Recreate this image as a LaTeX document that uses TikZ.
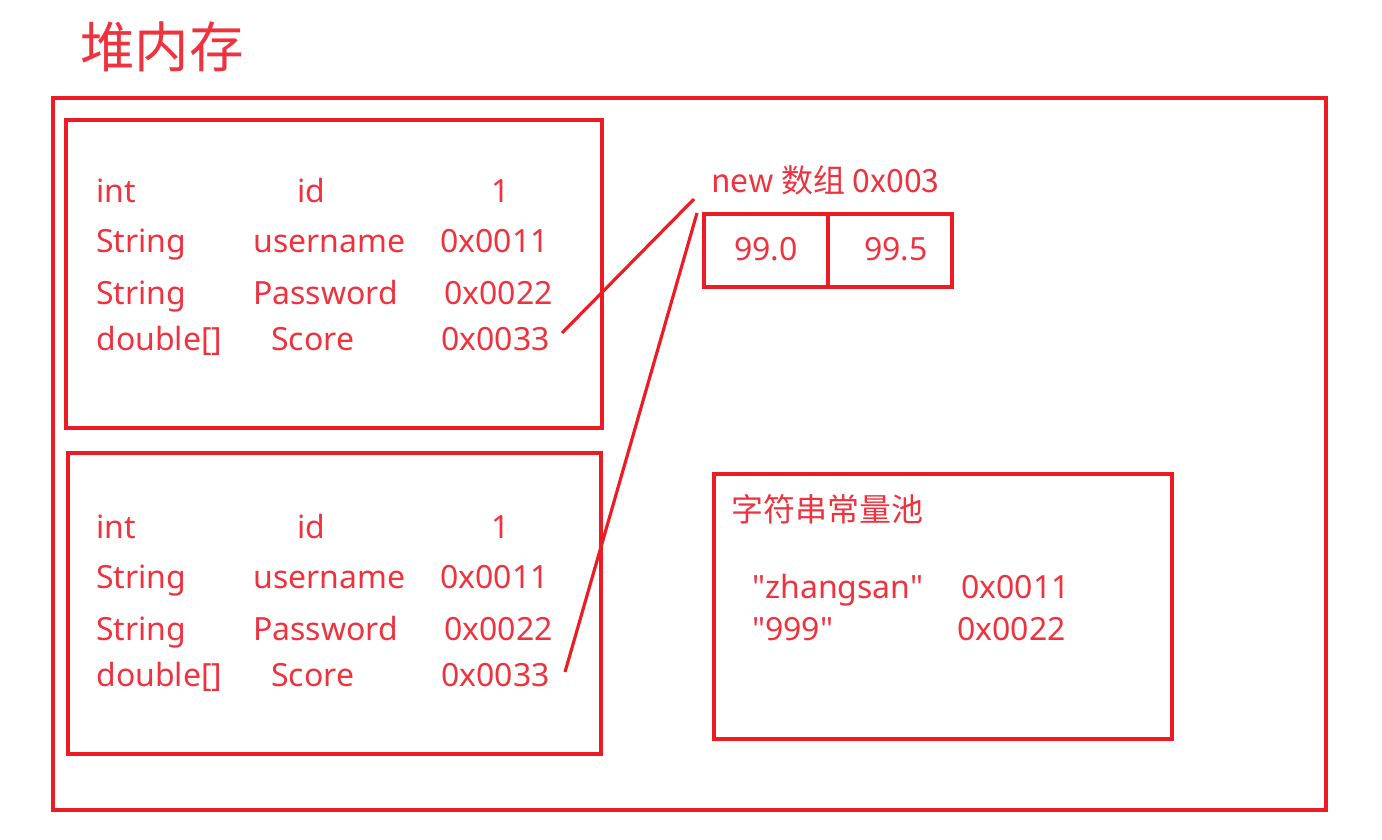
\documentclass[tikz,border=0pt]{standalone}
\usepackage{fontspec}
\setmainfont{Noto Sans}[Ligatures=TeXOff]
\newfontfamily\cjk{Noto Sans CJK SC}
\usetikzlibrary{positioning,calc}
\definecolor{memred}{RGB}{237,28,36}
\definecolor{txtred}{RGB}{238,50,62}
\tikzset{
  box/.style={draw=memred,line width=1.8pt},
  fld/.style={text=txtred,font=\fontsize{18.2}{20}\selectfont,anchor=base west,inner sep=0pt},
  ttl/.style={text=txtred,font=\cjk\fontsize{31}{33}\selectfont,anchor=base west,inner sep=0pt},
  lbl/.style={text=txtred,font=\cjk\fontsize{18.2}{20}\selectfont,anchor=base west,inner sep=0pt},
  ref/.style={draw=memred,line width=1.8pt},
}
\begin{document}
\begin{tikzpicture}[x=0.02cm,y=-0.02cm]
  \useasboundingbox (0,0) rectangle (1382,839);
  \node[ttl] (heap) at (80,67) {堆内存};
  \draw[box] (53,98) rectangle (1326,810);
  % two objects
  \draw[box] (66,120) rectangle (602,428);
  \draw[box] (68,453) rectangle (601,754);
  \foreach \o/\k in {0/1,336/2}{
    \node[fld] (ty\k a) at (96,202+\o) {int};
    \node[fld] (ty\k b) at (96,252+\o) {String};
    \node[fld] (ty\k c) at (96,304+\o) {String};
    \node[fld] (ty\k d) at (96,350+\o) {double[]};
    \node[fld] (nm\k a) at (297,202+\o) {id};
    \node[fld] (nm\k b) at (253,252+\o) {username};
    \node[fld] (nm\k c) at (253,304+\o) {Password};
    \node[fld] (nm\k d) at (271,350+\o) {Score};
    \node[fld] (vl\k a) at (491,202+\o) {1};
    \node[fld] (vl\k b) at (440,252+\o) {0x0011};
    \node[fld] (vl\k c) at (444,304+\o) {0x0022};
    \node[fld] (vl\k d) at (441,350+\o) {0x0033};
  }
  % array
  \node[lbl] (arr) at (711,192) {new 数组 0x003};
  \draw[box] (704,214) rectangle (952,287);
  \draw[box] (828,214) -- (828,287);
  \node[fld] (v0) at (734,260) {99.0};
  \node[fld] (v1) at (864,260) {99.5};
  % references
  \coordinate (s1) at (562,333);
  \coordinate (s2) at (565,672);
  \coordinate (e1) at (694,199);
  \coordinate (e2) at (697,213);
  \draw[ref] (s1) -- (e1);
  \draw[ref] (s2) -- (e2);
  % string pool
  \draw[box] (714,474) rectangle (1172,739);
  \node[lbl] (pool) at (731,521) {字符串常量池};
  \node[fld] (p1) at (752,598) {"zhangsan"};
  \node[fld] (a1) at (961,598) {0x0011};
  \node[fld] (p2) at (752,640) {"999"};
  \node[fld] (a2) at (957,640) {0x0022};
\end{tikzpicture}
\end{document}
